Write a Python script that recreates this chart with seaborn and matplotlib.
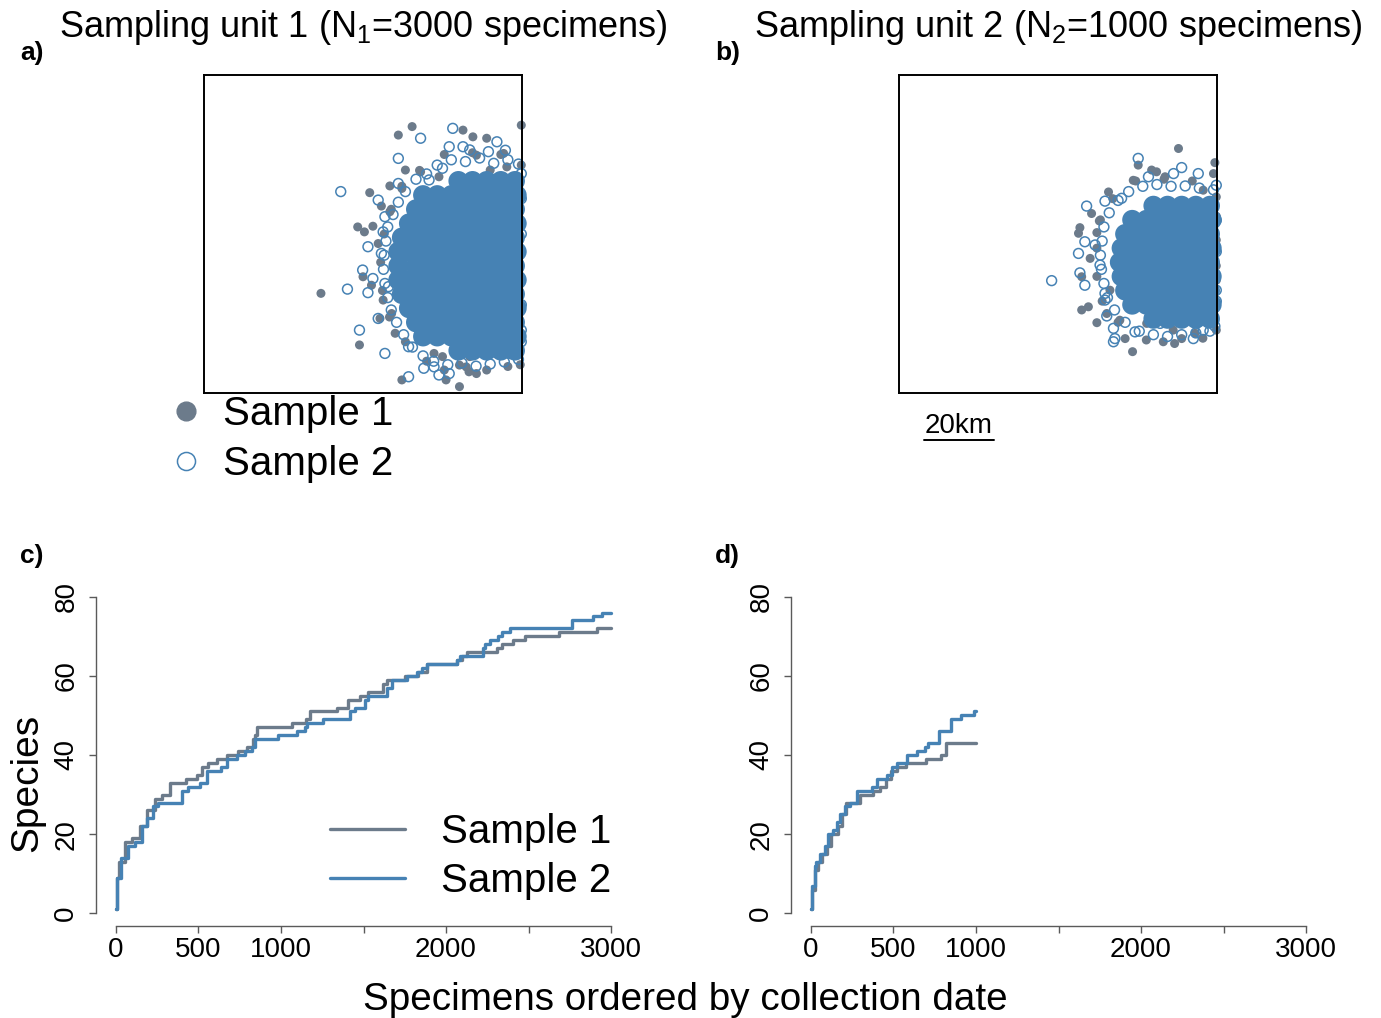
import numpy as np
import matplotlib
matplotlib.use('Agg')
import matplotlib.pyplot as plt
from matplotlib.lines import Line2D
import seaborn as sns

sns.set_style("white")
plt.rcParams['font.family'] = ['Liberation Sans', 'DejaVu Sans']
plt.rcParams['mathtext.default'] = 'regular'
plt.rcParams['text.color'] = 'black'

GRAY = '#6C7B8B'
BLUE = '#4682B4'
AXC = '#5a5a5a'

# ---- map data (km inside a 90 x 90 km sampling unit) ----
# panel a, sample 1 (filled grey): scattered specimens + fringe of the cloud
s1a_x = [89.8, 58.9, 55.0, 73.3, 76.1, 80.0, 57.0, 61.3, 46.9, 52.6, 50.2, 43.5, 47.8, 45.4,
         49.3, 33.1, 45.0, 47.4, 50.7, 49.8, 44.0, 54.1, 56.0, 72.3, 68.5, 77.1, 74.2, 72.3,
         65.1, 67.5, 75.2, 53.1, 60.8, 81.0, 77.1, 85.7, 88.6, 66.5, 52.6, 56.0, 84.8, 89.8,
         68.0, 76.0, 84.0, 61.0, 56.0, 53.0, 51.0, 50.0, 50.5, 52.5, 57.0, 63.0, 68.0, 75.0,
         80.0, 86.0, 89.5]
s1a_y = [75.8, 75.4, 73.0, 74.4, 72.5, 72.1, 63.1, 62.6, 56.7, 58.6, 52.9, 47.0, 47.2, 45.6,
         42.3, 28.2, 32.9, 30.5, 26.3, 21.1, 13.6, 16.9, 3.7, 1.8, 3.7, 5.5, 7.4, 7.9,
         11.2, 10.3, 10.3, 22.5, 15.0, 63.1, 67.3, 64.0, 59.3, 61.2, 51.3, 57.9, 67.8, 64.5,
         67.5, 68.0, 67.5, 63.0, 58.5, 52.0, 45.0, 37.0, 29.0, 21.5, 14.5, 9.0, 6.5, 6.0,
         6.5, 7.5, 8.0]
# panel a, sample 2 (open blue)
s2a_x = [38.7, 40.6, 55.0, 70.4, 61.3, 69.4, 73.3, 82.9, 85.3, 89.8, 44.0, 51.2, 49.3, 46.4,
         50.7, 44.9, 47.8, 46.4, 49.3, 55.0, 51.2, 57.9, 62.2, 65.1, 66.5, 69.4, 57.9, 76.1,
         86.7, 89.8, 89.8, 52.2, 50.2, 63.7, 67.5, 75.2, 80.5,
         66.0, 70.0, 74.0, 78.0, 82.0, 86.0, 89.0, 63.0, 60.0, 57.0, 55.0, 53.5, 52.0, 51.5,
         51.0, 50.8, 51.2, 52.0, 53.0, 54.5, 56.5, 59.0, 62.0, 65.0, 69.0, 73.0, 77.0, 81.0,
         85.0, 89.0, 89.8, 89.8, 89.8]
s2a_y = [57.0, 29.4, 66.4, 74.9, 72.1, 69.7, 69.7, 71.1, 68.7, 62.1, 17.8, 11.2, 21.1, 41.4,
         45.6, 34.8, 32.4, 28.4, 54.6, 59.3, 49.9, 13.1, 7.0, 7.4, 5.1, 5.5, 4.6, 11.2,
         11.2, 14.5, 17.8, 30.1, 39.5, 60.3, 63.6, 68.8, 68.3,
         64.5, 66.0, 65.5, 66.5, 65.0, 66.0, 64.8, 62.0, 60.5, 57.0, 54.0, 50.5, 47.0, 43.0,
         39.0, 35.0, 31.0, 27.0, 23.5, 20.0, 16.5, 13.0, 10.5, 9.0, 8.0, 8.5, 7.6, 8.2,
         8.8, 9.5, 25.0, 45.0, 55.0]
# dense core of panel a (heavily overlapping specimens)
core_a_rows_y = [60, 56, 52, 48, 44, 40, 36, 32, 28, 24, 20, 16, 12]
core_a_rows_x = [[72, 76, 80, 84, 88],
                 [62, 66, 70, 74, 78, 82, 86, 88.5],
                 [60, 64, 68, 72, 76, 80, 84, 88],
                 [58, 62, 66, 70, 74, 78, 82, 86, 88.5],
                 [56, 60, 64, 68, 72, 76, 80, 84, 88],
                 [55, 58, 62, 66, 70, 74, 78, 82, 86, 88.5],
                 [55, 60, 64, 68, 72, 76, 80, 84, 88],
                 [55, 58, 62, 66, 70, 74, 78, 82, 86, 88.5],
                 [56, 60, 64, 68, 72, 76, 80, 84, 88],
                 [58, 62, 66, 70, 74, 78, 82, 86, 88.5],
                 [60, 64, 68, 72, 76, 80, 84, 88],
                 [62, 66, 70, 74, 78, 82, 86, 88.5],
                 [72, 76, 80, 84, 88]]

# panel b
s1b_x = [79.1, 89.4, 67.7, 71.5, 72.9, 66.3, 75.3, 59.3, 86.1, 89.0, 54.5, 56.7, 51.2, 50.8,
         56.0, 54.1, 51.7, 51.7, 53.6, 56.0, 62.5, 64.0, 66.1, 74.8, 80.0, 89.8, 89.8, 89.8,
         59.7, 58.8, 89.8, 70.1, 77.6, 83.8,
         67.0, 75.0, 83.0, 60.5, 57.0, 56.0, 56.0, 57.5, 62.0, 70.0, 78.0, 86.0, 89.8, 89.8]
s1b_y = [69.2, 65.2, 64.5, 63.1, 62.6, 60.2, 61.2, 56.9, 57.4, 62.1, 50.8, 48.7, 46.8, 45.2,
         45.4, 38.1, 32.9, 23.5, 24.4, 19.9, 20.6, 15.4, 11.7, 14.5, 15.4, 17.8, 31.9, 43.3,
         29.1, 22.5, 55.5, 19.7, 17.8, 16.9,
         60.0, 60.5, 60.0, 55.0, 49.0, 41.0, 33.0, 26.0, 20.0, 15.0, 14.0, 15.5, 36.0, 50.0]
s2b_x = [43.2, 67.7, 53.1, 58.3, 63.0, 80.0, 84.7, 89.8, 77.7, 70.6, 52.6, 50.8, 51.2, 52.6,
         58.3, 58.3, 58.8, 60.7, 61.1, 60.7, 66.8, 83.3, 89.4, 89.8, 89.8, 55.5, 56.9, 73.9, 86.1,
         65.0, 69.0, 73.0, 77.0, 81.0, 85.0, 89.0, 62.0, 59.5, 58.0, 57.5, 57.0, 57.3, 58.0,
         59.0, 61.0, 64.0, 68.0, 72.0, 76.0, 80.0, 84.0, 88.0, 89.8, 89.8]
s2b_y = [31.8, 66.4, 52.9, 54.3, 55.1, 63.8, 62.1, 58.8, 62.1, 61.2, 42.8, 39.5, 34.0, 30.5,
         26.3, 28.2, 21.8, 18.3, 15.4, 14.5, 17.3, 15.4, 18.9, 29.1, 48.9, 41.9, 36.2, 19.7, 17.8,
         57.0, 58.5, 59.0, 58.5, 58.6, 58.0, 57.5, 54.5, 51.0, 47.0, 43.0, 39.0, 35.0, 31.0,
         27.0, 23.5, 20.0, 17.5, 16.5, 16.0, 16.5, 17.0, 17.5, 26.0, 40.0]
core_b_rows_y = [53, 49, 45, 41, 37, 33, 29, 25, 21]
core_b_rows_x = [[72, 76, 80, 84, 88],
                 [66, 70, 74, 78, 82, 86, 88.5],
                 [64, 68, 72, 76, 80, 84, 88],
                 [63, 66, 70, 74, 78, 82, 86, 88.5],
                 [62.5, 64, 68, 72, 76, 80, 84, 88],
                 [63, 66, 70, 74, 78, 82, 86, 88.5],
                 [64, 68, 72, 76, 80, 84, 88],
                 [66, 70, 74, 78, 82, 86, 88.5],
                 [72, 76, 80, 84, 88]]

# ---- accumulation curves (specimen index where species count steps up) ----
c_s1_x = [0, 5, 20, 55, 95, 145, 186, 236, 277, 327, 428, 489, 519, 558, 610, 671, 740, 792,
          832, 842, 853, 1065, 1150, 1175, 1337, 1408, 1479, 1529, 1620, 1640, 1751, 1832,
          1882, 2065, 2095, 2125, 2307, 2337, 2408, 2478, 2681, 2913, 3000]
c_s1_y = [1, 9, 13, 18, 19, 22, 26, 29, 30, 33, 34, 35, 37, 38, 39, 40, 41, 42,
          44, 45, 47, 48, 49, 51, 52, 54, 55, 56, 58, 59, 60, 61,
          63, 64, 65, 66, 67, 68, 69, 70, 71, 72, 72]
c_s2_x = [0, 5, 34, 74, 115, 156, 186, 226, 256, 398, 438, 509, 550, 640, 671, 731, 782, 822,
          842, 984, 1095, 1145, 1155, 1256, 1418, 1448, 1509, 1529, 1640, 1671, 1762, 1822,
          1852, 1883, 2065, 2085, 2226, 2236, 2266, 2317, 2337, 2388, 2761, 2892, 2943, 3000]
c_s2_y = [1, 9, 14, 17, 18, 22, 24, 27, 28, 31, 32, 33, 36, 37, 39, 40, 41, 42,
          44, 45, 46, 47, 48, 49, 51, 52, 54, 55, 57, 59, 60, 61,
          62, 63, 64, 65, 67, 68, 69, 70, 71, 72, 74, 75, 76, 76]
d_s1_x = [0, 10, 24, 43, 70, 96, 123, 163, 190, 216, 297, 377, 417, 457, 484, 524, 577, 697,
          790, 817, 1000]
d_s1_y = [1, 6, 11, 13, 15, 17, 20, 22, 25, 28, 30, 31, 32, 34, 36, 37, 38, 39, 40, 43, 43]
d_s2_x = [0, 10, 24, 34, 55, 85, 105, 135, 156, 176, 206, 236, 277, 368, 398, 459, 489, 519,
          580, 641, 691, 711, 777, 850, 911, 991, 1000]
d_s2_y = [1, 7, 12, 13, 15, 17, 20, 21, 23, 25, 27, 28, 31, 32, 34, 35, 37, 38,
          40, 41, 42, 43, 46, 49, 50, 51, 51]

x_ticks = [0, 500, 1000, 1500, 2000, 2500, 3000]
x_ticklabels = ['0', '500', '1000', '', '2000', '', '3000']
y_ticks = [0, 20, 40, 60, 80]
labels = ['Sample 1', 'Sample 2']

W, H = 1381, 1018
fig = plt.figure(figsize=(W / 100, H / 100), dpi=100)


def px_box(l, t, r, b):
    return [l / W, 1 - b / H, (r - l) / W, (b - t) / H]


def flatten(rows_y, rows_x):
    xs, ys = [], []
    for yv, row in zip(rows_y, rows_x):
        xs += row
        ys += [yv] * len(row)
    return xs, ys


def draw_map(ax, s1x, s1y, cx, cy, s2x, s2y):
    sns.scatterplot(x=s1x, y=s1y, color=GRAY, s=42, edgecolor='none', ax=ax,
                    clip_on=False, zorder=2)
    sns.scatterplot(x=cx, y=cy, color=BLUE, s=207, edgecolor='none', ax=ax,
                    clip_on=False, zorder=3)
    sns.scatterplot(x=s2x, y=s2y, facecolor='none', edgecolor=BLUE, linewidth=1.1,
                    s=50, ax=ax, clip_on=False, zorder=4)
    ax.set_xlim(0, 90)
    ax.set_ylim(0, 90)
    ax.set_xticks([])
    ax.set_yticks([])
    ax.set_xlabel('')
    ax.set_ylabel('')
    for sp in ax.spines.values():
        sp.set_visible(True)
        sp.set_color('black')
        sp.set_linewidth(1.4)
        sp.set_zorder(5)


ax_a = fig.add_axes(px_box(204, 75, 522, 393))
cax, cay = flatten(core_a_rows_y, core_a_rows_x)
draw_map(ax_a, s1a_x, s1a_y, cax, cay, s2a_x, s2a_y)

ax_b = fig.add_axes(px_box(899, 75, 1217, 393))
cbx, cby = flatten(core_b_rows_y, core_b_rows_x)
draw_map(ax_b, s1b_x, s1b_y, cbx, cby, s2b_x, s2b_y)

# scale bar (20 km) under panel b
ax_b.plot([7.0, 27.0], [-13.3, -13.3], color='black', lw=1.4, clip_on=False)
ax_b.text(17.0, -11.3, '20km', ha='center', va='baseline', fontsize=20, color='black')

# point legend under panel a
pt_handles = [Line2D([], [], ls='', marker='o', ms=13.5, color=GRAY),
              Line2D([], [], ls='', marker='o', ms=13, mfc='none', mec=BLUE, mew=1.1)]
fig.legend(pt_handles, labels, loc='upper left', bbox_to_anchor=(166 / W, 1 - 395 / H),
           frameon=False, fontsize=29, handlelength=1.0, handletextpad=0.42,
           labelspacing=0.29, borderpad=0, borderaxespad=0, labelcolor='black')

fig.text(363 / W, 1 - 37 / H, 'Sampling unit 1 (N$_1$=3000 specimens)', ha='center',
         va='baseline', fontsize=26, color='black')
fig.text(1058 / W, 1 - 37 / H, 'Sampling unit 2 (N$_2$=1000 specimens)', ha='center',
         va='baseline', fontsize=26, color='black')

# ---- accumulation panels ----
ax_c = fig.add_axes(px_box(96, 584, 631, 926))
ax_d = fig.add_axes(px_box(791, 584, 1326, 926))

sns.lineplot(x=c_s1_x, y=c_s1_y, color=GRAY, lw=2.4, drawstyle='steps-post', estimator=None,
             ax=ax_c, label=labels[0])
sns.lineplot(x=c_s2_x, y=c_s2_y, color=BLUE, lw=2.4, drawstyle='steps-post', estimator=None,
             ax=ax_c, label=labels[1])
sns.lineplot(x=d_s1_x, y=d_s1_y, color=GRAY, lw=2.4, drawstyle='steps-post', estimator=None,
             ax=ax_d, legend=False)
sns.lineplot(x=d_s2_x, y=d_s2_y, color=BLUE, lw=2.4, drawstyle='steps-post', estimator=None,
             ax=ax_d, legend=False)

for ax in (ax_c, ax_d):
    ax.set_xlim(-120, 3120)
    ax.set_ylim(-3.2, 83.2)
    ax.spines['top'].set_visible(False)
    ax.spines['right'].set_visible(False)
    ax.spines['left'].set_bounds(0, 80)
    ax.spines['bottom'].set_bounds(0, 3000)
    for side in ('left', 'bottom'):
        ax.spines[side].set_color(AXC)
        ax.spines[side].set_linewidth(1.0)
    ax.set_xticks(x_ticks)
    ax.set_xticklabels(x_ticklabels)
    ax.set_yticks(y_ticks)
    ax.set_yticklabels([str(v) for v in y_ticks], rotation=90, va='center')
    ax.tick_params(left=True, bottom=True, direction='out', length=5, width=1.0,
                   color=AXC, labelsize=20, labelcolor='black')
    ax.tick_params(axis='x', pad=3)
    ax.tick_params(axis='y', pad=7)
    ax.set_xlabel('')
    ax.set_ylabel('')

ax_c.legend(loc='upper left', bbox_to_anchor=(330 / W, 1 - 813 / H),
            bbox_transform=fig.transFigure, frameon=False, fontsize=29,
            handlelength=1.86, handletextpad=0.9, labelspacing=0.27,
            borderpad=0, borderaxespad=0, labelcolor='black')

fig.text(685 / W, 1 - 1010 / H, 'Specimens ordered by collection date', ha='center',
         va='baseline', fontsize=27.8, color='black')
fig.text(27 / W, 1 - 783 / H, 'Species', rotation=90, ha='center', va='center',
         fontsize=28, color='black')

# panel letters
for lbl, x, y in [('a)', 20, 60), ('b)', 715, 60), ('c)', 20, 563), ('d)', 715, 563)]:
    fig.text(x / W, 1 - y / H, lbl, ha='left', va='baseline', fontsize=19,
             fontweight='bold', color='black')

fig.savefig('out.png', dpi=100)
